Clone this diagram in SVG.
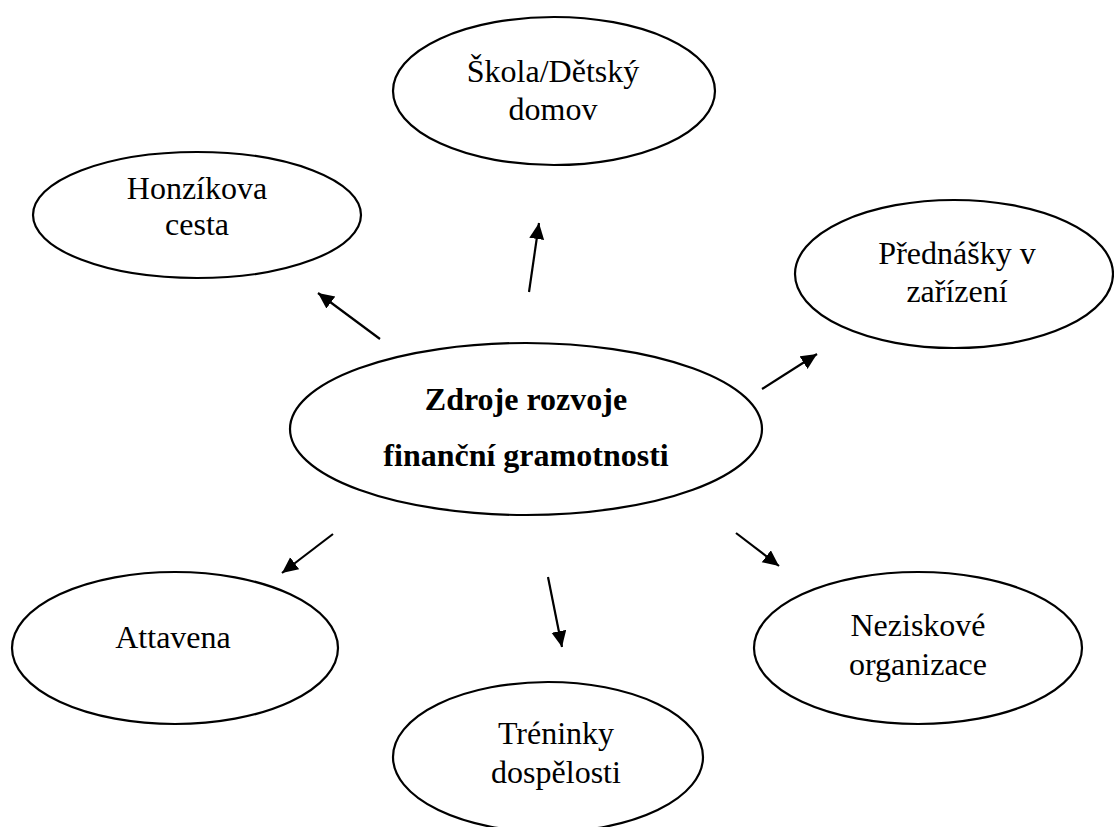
<svg xmlns="http://www.w3.org/2000/svg" width="1114" height="827" viewBox="0 0 1114 827">
<style>
.node ellipse{fill:#fff;stroke:#000;stroke-width:2.2}
.lbl{font-family:"Liberation Serif","Times New Roman",serif;font-size:32px;fill:#000;text-anchor:middle}
.bold{font-weight:bold;font-size:32px}
.conn line{stroke:#000;stroke-width:2.2}
</style>
<defs>
<marker id="ah" markerUnits="userSpaceOnUse" markerWidth="18" markerHeight="16" refX="16" refY="7.5" orient="auto">
<path d="M0,0 L16,7.5 L0,15 z" fill="#000"/>
</marker>
</defs>
<rect width="1114" height="827" fill="#fff"/>
<g id="center" class="node">
<ellipse cx="526" cy="429" rx="236" ry="86"/>
<text class="lbl bold" x="526" y="410">Zdroje rozvoje</text>
<text class="lbl bold" x="526" y="466">finanční gramotnosti</text>
</g>
<g id="skola" class="node">
<ellipse cx="554" cy="91" rx="161" ry="74"/>
<text class="lbl" x="553" y="82">Škola/Dětský</text>
<text class="lbl" x="553" y="120">domov</text>
</g>
<g id="honzikova" class="node">
<ellipse cx="197" cy="215" rx="164" ry="63"/>
<text class="lbl" x="197" y="199">Honzíkova</text>
<text class="lbl" x="197" y="235">cesta</text>
</g>
<g id="prednasky" class="node">
<ellipse cx="954" cy="274" rx="159" ry="74"/>
<text class="lbl" x="957" y="264">Přednášky v</text>
<text class="lbl" x="957" y="302">zařízení</text>
</g>
<g id="attavena" class="node">
<ellipse cx="175" cy="648" rx="163" ry="76"/>
<text class="lbl" x="173" y="648">Attavena</text>
</g>
<g id="treninky" class="node">
<ellipse cx="548" cy="757" rx="155" ry="75"/>
<text class="lbl" x="556" y="744">Tréninky</text>
<text class="lbl" x="556" y="783">dospělosti</text>
</g>
<g id="neziskove" class="node">
<ellipse cx="918" cy="648" rx="164" ry="76"/>
<text class="lbl" x="918" y="636">Neziskové</text>
<text class="lbl" x="918" y="675">organizace</text>
</g>
<g id="connectors" class="conn">
<line x1="380" y1="339" x2="318" y2="293" marker-end="url(#ah)"/>
<line x1="529" y1="292" x2="539" y2="223" marker-end="url(#ah)"/>
<line x1="762" y1="389" x2="817" y2="354" marker-end="url(#ah)"/>
<line x1="333" y1="534" x2="282" y2="573" marker-end="url(#ah)"/>
<line x1="548" y1="577" x2="562" y2="647" marker-end="url(#ah)"/>
<line x1="736" y1="533" x2="779" y2="566" marker-end="url(#ah)"/>
</g>
</svg>
